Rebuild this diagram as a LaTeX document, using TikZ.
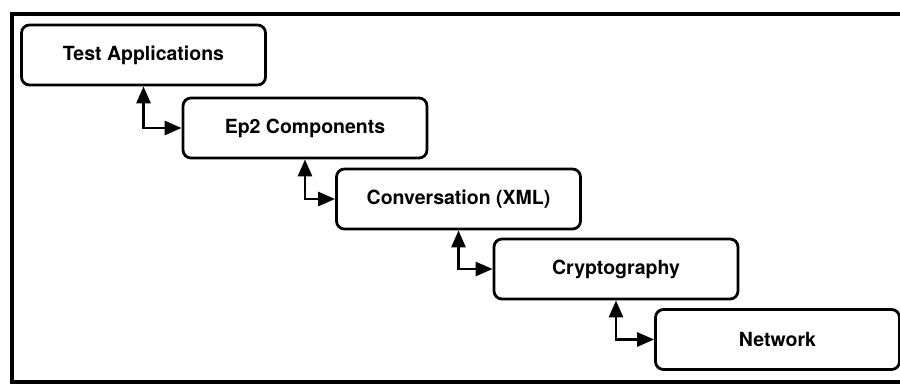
\documentclass[tikz,border=0pt]{standalone}
\usepackage{fontspec}
\setmainfont{TeX Gyre Heros}
\usetikzlibrary{arrows.meta}

\tikzset{
  layerbox/.style={draw=black, line width=2.8pt, rounded corners=8pt,
    minimum width=244pt, minimum height=60pt, inner sep=0pt, fill=white,
    font=\bfseries\fontsize{19.5}{21}\selectfont},
  link/.style={line width=2.8pt,
    {Triangle[length=17pt,width=14pt]}-{Triangle[length=17pt,width=14pt]}},
  frame/.style={line width=3.5pt, line cap=rect}
}

\begin{document}
\begin{tikzpicture}[x=1pt, y=-1pt]
  \useasboundingbox (0,0) rectangle (900,385);

  % outer frame, open on the right
  \draw[frame] (900,14) -- (12,14) -- (12,382) -- (900,382);

  % protocol layers, stepping down to the right
  \node[layerbox] (apps)  at (143.5,55)  {Test Applications};
  \node[layerbox] (ep2)   at (305,128)   {Ep2 Components};
  \node[layerbox] (conv)  at (458.5,199) {Conversation (XML)};
  \node[layerbox] (crypt) at (616,269)   {Cryptography};
  \node[layerbox] (net)   at (777.5,339.5) {Network};

  % two-way links between neighbouring layers
  \draw[link] (apps.south)  |- (ep2.west);
  \draw[link] (ep2.south)   |- (conv.west);
  \draw[link] (conv.south)  |- (crypt.west);
  \draw[link] (crypt.south) |- (net.west);
\end{tikzpicture}
\end{document}
